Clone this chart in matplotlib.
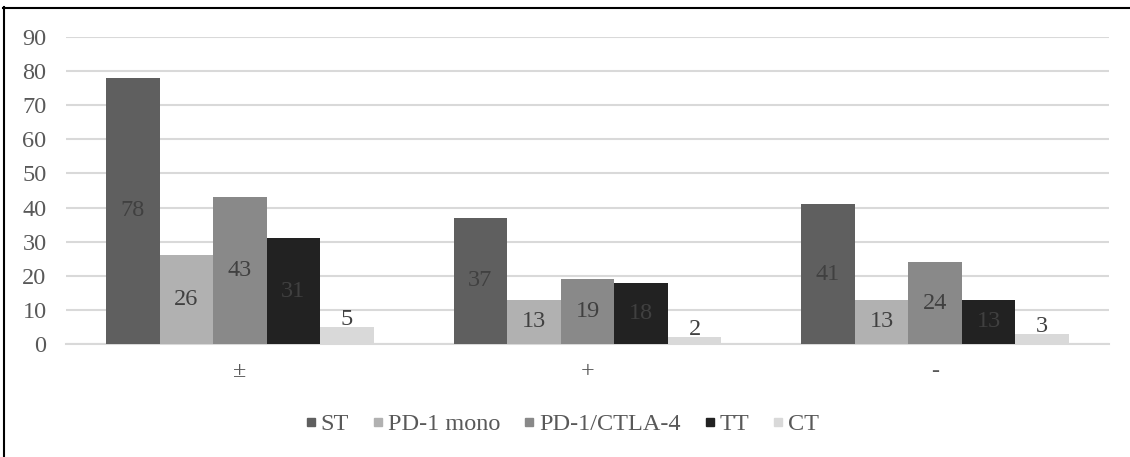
import matplotlib
matplotlib.use("Agg")
import matplotlib.pyplot as plt
import numpy as np
from matplotlib.lines import Line2D

categories = ["±", "+", "-"]
series_names = ["ST", "PD-1 mono", "PD-1/CTLA-4", "TT", "CT"]
st = [78, 37, 41]
pd1_mono = [26, 13, 13]
pd1_ctla4 = [43, 19, 24]
tt = [31, 18, 13]
ct = [5, 2, 3]
yticks = [0, 10, 20, 30, 40, 50, 60, 70, 80, 90]

colors = ["#5f5f5f", "#b1b1b1", "#898989", "#222222", "#d9d9d9"]
series = [st, pd1_mono, pd1_ctla4, tt, ct]

FS = 17.5
plt.rcParams["font.family"] = ["Liberation Serif", "DejaVu Serif"]
fig = plt.figure(figsize=(11.3, 4.57), dpi=100)
ax = fig.add_axes([66/1130, 1 - 344/457, (1109-66)/1130, (344-37)/457])

x = np.arange(len(categories))
w = 0.154
for i, (vals, c) in enumerate(zip(series, colors)):
    pos = x + (i - 2) * w
    bars = ax.bar(pos, vals, width=w, color=c, label=series_names[i], zorder=3)
    for b, v in zip(bars, vals):
        if i == 4:
            ax.text(b.get_x() + b.get_width()/2, v + 0.6, str(v), ha="center", va="baseline",
                    fontsize=FS, color="#404040", zorder=4)
        else:
            ax.text(b.get_x() + b.get_width()/2, v/2, str(v), ha="center", va="center",
                    fontsize=FS, color="#404040", zorder=4)

ax.set_xlim(-0.5, 2.5)
ax.set_ylim(0, 90)
ax.set_yticks(yticks)
ax.set_yticklabels([str(t) for t in yticks], fontsize=FS, color="#595959")
ax.set_xticks(x)
ax.set_xticklabels(categories, fontsize=FS, color="#595959")
ax.tick_params(axis="both", length=0)
ax.tick_params(axis="y", pad=14)
ax.tick_params(axis="x", pad=12)
ax.grid(axis="y", color="#d9d9d9", linewidth=1.5, zorder=0)
for s in ["top", "right", "left"]:
    ax.spines[s].set_visible(False)
ax.spines["bottom"].set_color("#d9d9d9")
ax.spines["bottom"].set_linewidth(1.5)

handles = [Line2D([], [], marker="s", linestyle="none", markersize=5.8,
                  markerfacecolor=c, markeredgecolor=c) for c in colors]
leg = fig.legend(handles, series_names, loc="center", bbox_to_anchor=(562/1130, 1 - 424/457),
                 ncol=5, frameon=False, fontsize=FS, handletextpad=0.15, columnspacing=0.95,
                 handlelength=0.5)
for t in leg.get_texts():
    t.set_color("#595959")

# partial frame lines (top and left)
fig.add_artist(Line2D([3/1130, 1], [1 - 7.5/457, 1 - 7.5/457], color="black", linewidth=1.5,
                      transform=fig.transFigure))
fig.add_artist(Line2D([3.5/1130, 3.5/1130], [0, 1 - 7/457], color="black", linewidth=1.5,
                      transform=fig.transFigure))

fig.savefig("out.png", dpi=100)
